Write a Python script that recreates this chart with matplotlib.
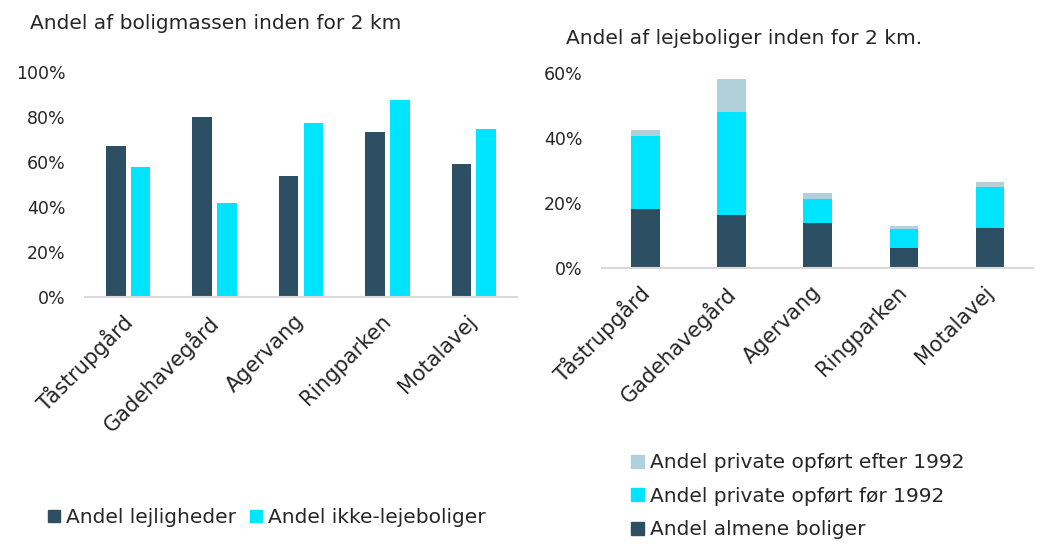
import numpy as np
import matplotlib.pyplot as plt
import matplotlib.transforms as mtransforms
from matplotlib.ticker import PercentFormatter
from matplotlib.patches import Patch

plt.rcParams['font.family'] = ['DejaVu Sans']

# data
omraader = ["Tåstrupgård", "Gadehavegård", "Agervang", "Ringparken", "Motalavej"]

lejligheder = [0.67, 0.80, 0.54, 0.735, 0.59]
ikke_leje = [0.58, 0.42, 0.775, 0.875, 0.745]

almene = [0.180, 0.163, 0.137, 0.063, 0.123]
privat_foer = [0.226, 0.317, 0.074, 0.057, 0.125]
privat_efter = [0.018, 0.100, 0.021, 0.008, 0.015]

DARK = "#2d4f63"
CYAN = "#00e5ff"
LIGHT = "#b0d0dc"
TXT = "#262626"
FS_T = 14.5   # titles and legends
FS_X = 15     # category labels
FS_Y = 12.5   # percent labels

fig = plt.figure(figsize=(10.42, 5.46), dpi=100)

# left chart
ax1 = fig.add_axes([0.0816, 0.456, 0.4145, 0.412])
x = np.arange(len(omraader))
w = 0.227
ax1.bar(x - 0.143, lejligheder, w, color=DARK, label="Andel lejligheder")
ax1.bar(x + 0.143, ikke_leje, w, color=CYAN, label="Andel ikke-lejeboliger")
ax1.set_xlim(-0.5, len(omraader) - 0.5)
ax1.set_ylim(0, 1)
ax1.set_yticks(np.arange(0, 1.01, 0.2))
ax1.yaxis.set_major_formatter(PercentFormatter(1.0, decimals=0))

# right chart
ax2 = fig.add_axes([0.578, 0.509, 0.4135, 0.358])
w2 = 0.33
ax2.bar(x, almene, w2, color=DARK, label="Andel almene boliger")
ax2.bar(x, privat_foer, w2, bottom=almene, color=CYAN, label="Andel private opført før 1992")
bund = np.array(almene) + np.array(privat_foer)
ax2.bar(x, privat_efter, w2, bottom=bund, color=LIGHT, label="Andel private opført efter 1992")
ax2.set_xlim(-0.5, len(omraader) - 0.5)
ax2.set_ylim(0, 0.6)
ax2.set_yticks(np.arange(0, 0.61, 0.2))
ax2.yaxis.set_major_formatter(PercentFormatter(1.0, decimals=0))

shift = mtransforms.ScaledTranslation(-7 / 100, 0, fig.dpi_scale_trans)
for ax in (ax1, ax2):
    for s in ("top", "right", "left"):
        ax.spines[s].set_visible(False)
    ax.spines["bottom"].set_color("#d9d9d9")
    ax.spines["bottom"].set_linewidth(1.5)
    ax.tick_params(axis="both", length=0, colors=TXT)
    ax.tick_params(axis="y", pad=14, labelsize=FS_Y)
    ax.set_xticks(x)
    ax.set_xticklabels(omraader, rotation=45, ha="right", rotation_mode="anchor")
    ax.tick_params(axis="x", pad=10, labelsize=FS_X)
    for lbl in ax.get_xticklabels():
        lbl.set_transform(lbl.get_transform() + shift)

fig.text(0.029, 0.957, "Andel af boligmassen inden for 2 km", fontsize=FS_T, color=TXT,
         va="center")
fig.text(0.543, 0.93, "Andel af lejeboliger inden for 2 km.", fontsize=FS_T, color=TXT,
         va="center")

# legends
h1 = [Patch(color=DARK), Patch(color=CYAN)]
fig.legend(h1, ["Andel lejligheder", "Andel ikke-lejeboliger"], loc="center left",
           bbox_to_anchor=(0.046, 0.052), ncol=2, frameon=False, fontsize=FS_T,
           handlelength=0.6, handleheight=0.6, handletextpad=0.3, columnspacing=0.7,
           labelcolor=TXT, borderaxespad=0, borderpad=0)
h2 = [Patch(color=LIGHT), Patch(color=CYAN), Patch(color=DARK)]
fig.legend(h2, ["Andel private opført efter 1992", "Andel private opført før 1992",
                "Andel almene boliger"], loc="center left",
           bbox_to_anchor=(0.606, 0.091), ncol=1, frameon=False, fontsize=FS_T,
           handlelength=0.6, handleheight=0.6, handletextpad=0.3, labelspacing=0.72,
           labelcolor=TXT, borderaxespad=0, borderpad=0)

fig.savefig("out.png", dpi=100)
